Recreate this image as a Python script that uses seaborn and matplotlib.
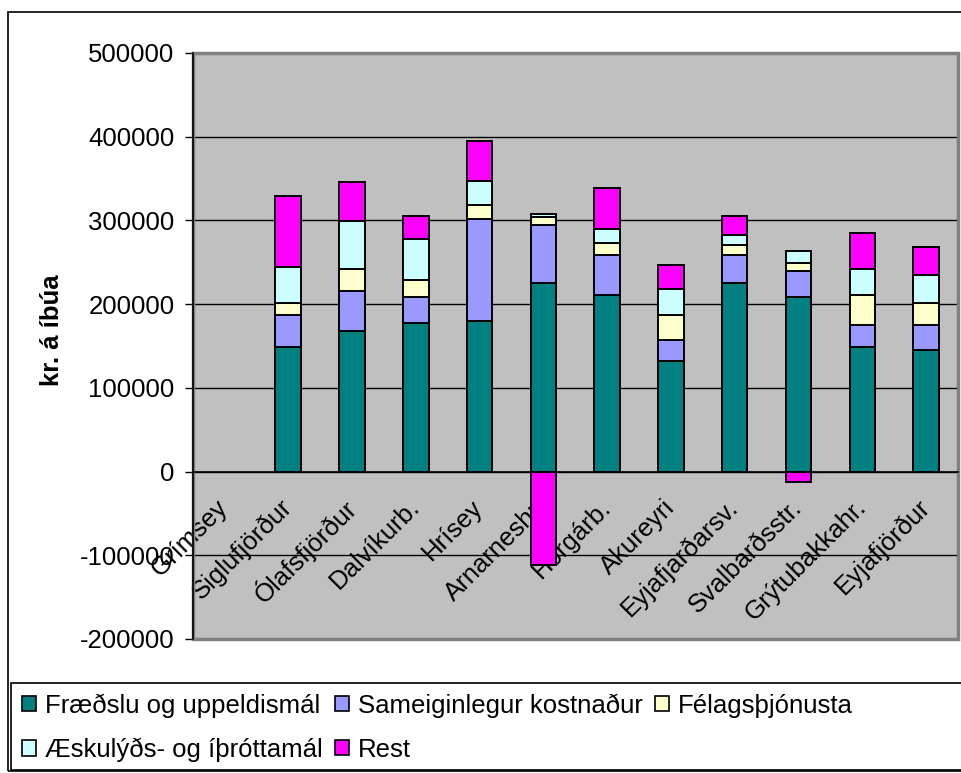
import matplotlib
matplotlib.use("Agg")
import matplotlib.pyplot as plt
import matplotlib.transforms as mtransforms
from matplotlib.patches import Patch, Rectangle
from matplotlib.ticker import FixedLocator
import numpy as np
import seaborn as sns

sns.set_style("white")
plt.rcParams['font.family'] = ['Liberation Sans', 'DejaVu Sans']
plt.rcParams.update({"text.color": "black", "axes.labelcolor": "black",
                     "xtick.color": "black", "ytick.color": "black"})

# Data (kr. per inhabitant)
categories = ["Grímsey", "Siglufjörður", "Ólafsfjörður", "Dalvíkurb.", "Hrísey",
              "Arnarneshr.", "Hörgárb.", "Akureyri", "Eyjafjarðarsv.",
              "Svalbarðsstr.", "Grýtubakkahr.", "Eyjafjörður"]
fraedslu = [0, 148500, 167700, 177200, 179600, 225100, 210800, 131700, 225100, 208900, 148500, 145700]
sameiginlegur = [0, 38300, 47900, 31700, 121800, 69500, 47500, 26000, 33600, 30600, 26300, 29100]
felags = [0, 14400, 26800, 19500, 17600, 9600, 14800, 28800, 12000, 10100, 36000, 26900]
aeskulyds = [0, 43100, 57000, 49100, 28300, 3200, 16400, 31500, 11900, 14300, 31600, 33000]
rest = [0, 84300, 46000, 27200, 47500, -112000, 48700, 29200, 22100, -12000, 43100, 33600]

series_names = ["Fræðslu og uppeldismál", "Sameiginlegur kostnaður", "Félagsþjónusta",
                "Æskulýðs- og íþróttamál", "Rest"]
series_values = [fraedslu, sameiginlegur, felags, aeskulyds, rest]
colors = ["#008080", "#9999FF", "#FFFFCC", "#CCFFFF", "#FF00FF"]

fig = plt.figure(figsize=(9.61, 7.73), dpi=100)
ax = fig.add_axes([192.5 / 961, 1 - 639 / 773, 765.5 / 961, 586 / 773])
ax.set_facecolor("#C0C0C0")

# stacked bars: positives go up from 0, negatives go down from 0
pos_base = np.zeros(len(categories))
neg_base = np.zeros(len(categories))
for name, vals, col in zip(series_names, series_values, colors):
    v = np.array(vals, dtype=float)
    bottom = np.where(v >= 0, pos_base, neg_base)
    sns.barplot(x=categories, y=v, order=categories, bottom=bottom, color=col,
                saturation=1, width=0.4, edgecolor="black", linewidth=1.4,
                errorbar=None, ax=ax, zorder=3)
    pos_base += np.clip(v, 0, None)
    neg_base += np.clip(v, None, 0)

# no data for Grímsey -> hide the empty bars
for p in ax.patches:
    if p.get_height() == 0:
        p.set_visible(False)

ax.set_ylim(-200000, 500000)
ax.set_xlim(-0.5, len(categories) - 0.5)
ax.set_yticks(np.arange(-200000, 500001, 100000))
ax.set_yticklabels([str(t) for t in range(-200000, 500001, 100000)], fontsize=18.5)
ax.yaxis.grid(True, color="black", linewidth=1)
ax.set_axisbelow(True)

# x axis sits on the zero line
for s in ["top", "right"]:
    ax.spines[s].set_visible(False)
ax.spines["bottom"].set_position(("data", 0))
ax.spines["bottom"].set_color("black")
ax.spines["bottom"].set_linewidth(1.2)
ax.spines["left"].set_color("black")
ax.spines["left"].set_linewidth(1.2)
ax.add_patch(Rectangle((0, 0), 1, 1, transform=ax.transAxes, fill=False,
                       edgecolor="#808080", linewidth=2.5, zorder=2.5, clip_on=False))

ax.set_xticks(range(len(categories)))
ax.set_xticklabels(categories, fontsize=18.5, rotation=45, ha="right", va="center",
                   rotation_mode="anchor")
shift = mtransforms.ScaledTranslation(-8 / 100, 0, fig.dpi_scale_trans)
for lab in ax.get_xticklabels():
    lab.set_transform(lab.get_transform() + shift)
ax.tick_params(axis="x", which="major", length=0, pad=23)
ax.xaxis.set_minor_locator(FixedLocator(np.arange(0.5, len(categories) - 0.5, 1)))
ax.tick_params(axis="x", which="minor", length=6, width=1, direction="out", color="black")
ax.tick_params(axis="y", length=6, width=1, direction="out", color="black", pad=7, left=True)
ax.set_xlabel("")
ax.set_ylabel("kr. á íbúa", fontsize=18.5, fontweight="bold")
ax.yaxis.set_label_coords(-0.168, 0.527)

# outer frame and legend box
fig.add_artist(Rectangle((8 / 961, 1 - 771 / 773), 1, 759 / 773, transform=fig.transFigure,
                         fill=False, edgecolor="black", linewidth=1.2))
fig.add_artist(Rectangle((11 / 961, 1 - 770 / 773), 1, 87 / 773, transform=fig.transFigure,
                         fill=False, edgecolor="black", linewidth=1.2))

handles = [Patch(facecolor=c, edgecolor="black", linewidth=1.2) for c in colors]
order = [0, 3, 1, 4, 2]
fig.legend([handles[i] for i in order], [series_names[i] for i in order],
           loc="upper left", bbox_to_anchor=(12 / 961, 1 - 683 / 773), ncol=3,
           frameon=False, fontsize=18.5, handlelength=0.55, handleheight=0.55,
           handletextpad=0.32, columnspacing=0.5, labelspacing=0.78, borderaxespad=0)

fig.savefig("out.png", dpi=100)
